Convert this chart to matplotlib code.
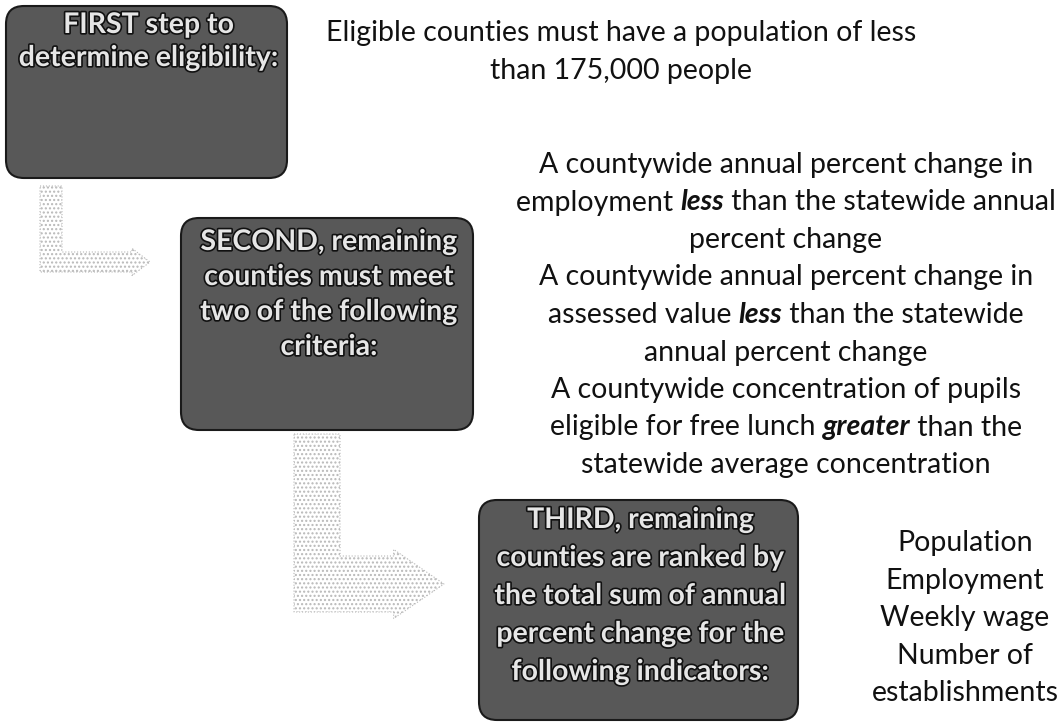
import matplotlib.pyplot as plt
import matplotlib.patheffects as pe
from matplotlib.patches import FancyBboxPatch, Polygon

FONT = "Lato"

# step boxes: label lines
step_labels = [
    ["FIRST step to", "determine eligibility:"],
    ["SECOND, remaining", "counties must meet", "two of the following", "criteria:"],
    ["THIRD, remaining", "counties are ranked by", "the total sum of annual",
     "percent change for the", "following indicators:"],
]

# descriptions: each line is a list of (text, emphasised) pieces
first_desc = [
    [("Eligible counties must have a population of less", False)],
    [("than 175,000 people", False)],
]
second_desc = [
    [("A countywide annual percent change in", False)],
    [("employment ", False), ("less", True), (" than the statewide annual", False)],
    [("percent change", False)],
    [("A countywide annual percent change in", False)],
    [("assessed value ", False), ("less", True), (" than the statewide", False)],
    [("annual percent change", False)],
    [("A countywide concentration of pupils", False)],
    [("eligible for free lunch ", False), ("greater", True), (" than the", False)],
    [("statewide average concentration", False)],
]
third_indicators = ["Population", "Employment", "Weekly wage", "Number of", "establishments"]

W, H = 1062, 724
fig = plt.figure(figsize=(W / 100, H / 100), dpi=100)
ax = fig.add_axes([0, 0, 1, 1])
ax.set_xlim(0, W)
ax.set_ylim(H, 0)
ax.axis("off")

# box geometry in pixel coords: (x0, y0, x1, y1), first text line y, line gap
boxes = [(6, 6, 287, 178, 25, 33), (181, 218, 473, 430, 242, 35),
         (479, 500, 798, 720, 520, 38)]

for (x0, y0, x1, y1, ty, gap), lines in zip(boxes, step_labels):
    ax.add_patch(FancyBboxPatch((x0 + 18, y0 + 18), x1 - x0 - 36, y1 - y0 - 36,
                                boxstyle="round,pad=18", facecolor="#585858",
                                edgecolor="#1a1a1a", lw=1.5))
    cx = (x0 + x1) / 2 + 2
    for i, line in enumerate(lines):
        ax.text(cx, ty + i * gap, line, ha="center", va="center", fontsize=20.5,
                fontweight="bold", family=FONT, color="#e6e6e6",
                path_effects=[pe.withStroke(linewidth=2.4, foreground="#111111")])

# dotted bent arrows: vertical bar then horizontal bar with arrowhead
arrows = [
    dict(x0=40, x1=62, y0=186, yb=252, yt=272, tip=150, head=12),
    dict(x0=294, x1=340, y0=434, yb=556, yt=612, tip=444, head=22),
]
for a in arrows:
    mid = (a["yb"] + a["yt"]) / 2
    hx = a["tip"] - (a["yt"] - a["yb"]) * 0.9
    pts = [(a["x0"], a["y0"]), (a["x1"], a["y0"]), (a["x1"], a["yb"]),
           (hx, a["yb"]), (hx, a["yb"] - a["head"] * 0.3), (a["tip"], mid),
           (hx, a["yt"] + a["head"] * 0.3), (hx, a["yt"]), (a["x0"], a["yt"])]
    ax.add_patch(Polygon(pts, closed=True, facecolor="none", edgecolor="#b8b8b8",
                         hatch="....", lw=0.8, linestyle=":"))

fig.canvas.draw()
renderer = fig.canvas.get_renderer()
inv = ax.transData.inverted()


def draw_line(cx, y, pieces, size):
    items = []
    for txt, emph in pieces:
        t = ax.text(0, y, txt, ha="left", va="center", fontsize=size, family=FONT,
                    color="#111111", fontweight="bold" if emph else "normal",
                    fontstyle="italic" if emph else "normal")
        bb = t.get_window_extent(renderer)
        w = inv.transform((bb.x1, 0))[0] - inv.transform((bb.x0, 0))[0]
        items.append((t, w))
    total = sum(w for _, w in items)
    x = cx - total / 2
    for t, w in items:
        t.set_x(x)
        x += w


for i, line in enumerate(first_desc):
    draw_line(621, 33 + i * 38, line, 20.5)
for i, line in enumerate(second_desc):
    draw_line(786, 165 + i * 37.5, line, 20.5)
for i, word in enumerate(third_indicators):
    draw_line(965, 543 + i * 37.6, [(word, False)], 20.5)

fig.savefig("out.png", dpi=100, facecolor="white")
